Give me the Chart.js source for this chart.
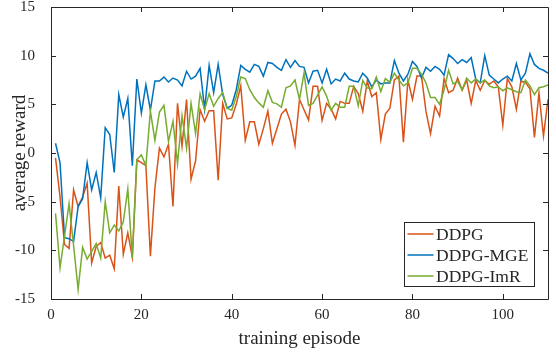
<!DOCTYPE html>
<html>
<head>
<meta charset="utf-8">
<script src="https://cdn.jsdelivr.net/npm/chart.js@4.4.1/dist/chart.umd.min.js"></script>
<style>
  html, body { margin: 0; padding: 0; background: #ffffff; }
  #wrap { width: 556px; height: 356px; }
</style>
</head>
<body>
<div id="wrap"><canvas id="c" width="556" height="356"></canvas></div>
<script>
const episodes = [1,2,3,4,5,6,7,8,9,10,11,12,13,14,15,16,17,18,19,20,
  21,22,23,24,25,26,27,28,29,30,31,32,33,34,35,36,37,38,39,40,
  41,42,43,44,45,46,47,48,49,50,51,52,53,54,55,56,57,58,59,60,
  61,62,63,64,65,66,67,68,69,70,71,72,73,74,75,76,77,78,79,80,
  81,82,83,84,85,86,87,88,89,90,91,92,93,94,95,96,97,98,99,100,
  101,102,103,104,105,106,107,108,109,110];

const ddpg = [-0.5,-4.5,-9.4,-9.8,-3.8,-5.5,-4.5,-3.1,-11.3,-9.6,
  -9.2,-10.8,-10.5,-11.9,-3.4,-10.4,-8.2,-10.7,-0.7,-1.0,
  -1.3,-10.6,-3.6,0.5,-0.4,0.9,-5.5,5.1,0.7,5.5,
  -2.7,-0.8,4.45,3.25,4.35,4.35,-2.8,5.1,3.5,3.6,
  5.0,6.9,1.3,3.2,3.2,0.9,2.5,4.3,1.0,2.5,
  4.0,4.5,3.2,0.8,5.5,4.45,3.4,6.85,6.85,3.35,
  5.1,4.5,3.5,5.3,5.1,5.1,6.85,6.1,4.3,7.4,
  5.8,6.2,1.4,4.0,4.6,7.5,7.9,1.1,7.5,5.5,
  7.9,7.9,4.25,2.0,4.8,3.8,7.65,6.2,6.45,7.7,
  6.45,7.5,5.1,7.45,6.45,7.45,7.05,7.4,6.8,2.85,
  7.65,6.8,4.5,7.4,7.25,6.6,1.6,6.15,1.75,5.5];

const ddpgMGE = [1.0,-1.0,-8.7,-8.8,-9.1,-5.5,-4.7,-1.0,-3.8,-2.0,
  -4.6,2.6,1.9,-2.0,6.0,3.7,5.6,-1.3,7.6,4.1,
  7.0,4.4,7.4,7.4,7.8,7.3,7.7,7.5,6.9,8.4,
  7.6,7.9,8.7,4.5,9.0,6.2,9.1,6.0,4.6,4.9,
  6.5,9.0,8.6,8.3,9.1,8.9,7.9,9.3,9.2,8.8,
  8.5,9.6,8.8,9.5,8.9,8.8,7.2,8.4,8.5,7.2,
  8.6,7.1,7.6,7.4,8.2,7.6,7.4,7.3,8.2,7.7,
  6.8,7.5,7.1,7.2,7.2,9.5,8.2,7.4,8.1,9.4,
  8.9,7.7,8.8,8.4,8.9,8.6,8.0,10.1,9.7,9.2,
  9.6,9.3,9.8,7.6,7.2,10.0,8.0,7.6,7.2,7.6,
  7.9,7.4,9.2,7.5,8.2,10.2,9.1,8.7,8.5,8.2];

const ddpgImR = [-6.2,-11.8,-8.5,-5.2,-9.5,-14.0,-9.7,-10.9,-10.1,-9.3,
  -10.8,-5.0,-8.2,-7.4,-8.0,-7.1,-3.7,-10.8,-0.7,-0.2,
  -1.3,4.3,1.3,4.2,4.9,1.2,3.25,-1.1,3.8,0.5,
  5.1,2.0,6.1,4.45,6.1,4.8,5.6,6.2,4.6,4.4,
  5.8,7.8,7.65,6.5,5.7,5.15,4.7,6.4,5.2,5.05,
  4.7,6.7,6.9,7.5,5.5,8.2,4.9,5.1,5.95,6.8,
  5.85,4.4,5.1,4.7,4.7,6.85,6.85,4.85,7.45,6.7,
  6.6,7.8,6.3,7.65,7.25,8.2,7.5,6.9,7.2,8.7,
  8.7,8.1,7.2,5.7,5.7,5.0,6.5,8.5,7.1,7.35,
  6.5,7.7,7.2,7.6,7.2,7.5,6.9,6.7,6.8,6.4,
  6.7,6.5,6.3,6.2,7.5,6.9,6.0,6.7,6.8,7.0];

const seriesNames = ['DDPG', 'DDPG-MGE', 'DDPG-ImR'];
const xTickValues = [0, 20, 40, 60, 80, 100];
const yTickValues = [-15, -10, -5, 0, 5, 10, 15];
const xLabel = 'training episode';
const yLabel = 'average reward';

const COLORS = ['#D95319', '#0072BD', '#77AC30'];
const AXIS = '#262626';
const SERIF = '"Liberation Serif", "Times New Roman", serif';

function pts(ys) { return episodes.map((e, i) => ({ x: e, y: ys[i] })); }

const boxTicks = {
  id: 'boxTicks',
  afterDraw(chart) {
    const ctx = chart.ctx, a = chart.chartArea;
    const xs = chart.scales.x, ys = chart.scales.y;
    ctx.save();
    ctx.strokeStyle = AXIS;
    ctx.lineWidth = 1;
    ctx.beginPath();
    ctx.rect(Math.round(a.left) + 0.5, Math.round(a.top) + 0.5,
             Math.round(a.right - a.left), Math.round(a.bottom - a.top));
    ctx.stroke();
    const L = 5;
    ctx.beginPath();
    xTickValues.forEach(v => {
      const px = Math.round(xs.getPixelForValue(v)) + 0.5;
      ctx.moveTo(px, a.bottom); ctx.lineTo(px, a.bottom - L);
      ctx.moveTo(px, a.top); ctx.lineTo(px, a.top + L);
    });
    yTickValues.forEach(v => {
      const py = Math.round(ys.getPixelForValue(v)) + 0.5;
      ctx.moveTo(a.left, py); ctx.lineTo(a.left + L, py);
      ctx.moveTo(a.right, py); ctx.lineTo(a.right - L, py);
    });
    ctx.stroke();
    ctx.restore();
  }
};

const boxLegend = {
  id: 'boxLegend',
  afterDraw(chart) {
    const ctx = chart.ctx, a = chart.chartArea;
    const w = 130, h = 64;
    const x0 = Math.round(a.right - 14.5 - w) + 0.5;
    const y0 = Math.round(a.bottom - 13.5 - h) + 0.5;
    ctx.save();
    ctx.fillStyle = '#ffffff';
    ctx.fillRect(x0, y0, w, h);
    ctx.strokeStyle = AXIS;
    ctx.lineWidth = 1;
    ctx.strokeRect(x0, y0, w, h);
    ctx.font = '17.5px ' + SERIF;
    ctx.textBaseline = 'middle';
    ctx.textAlign = 'left';
    chart.data.datasets.forEach((ds, i) => {
      const cy = y0 + 11.5 + i * 21;
      ctx.strokeStyle = ds.borderColor;
      ctx.lineWidth = 1.5;
      ctx.beginPath();
      ctx.moveTo(x0 + 3, cy); ctx.lineTo(x0 + 29, cy);
      ctx.stroke();
      ctx.fillStyle = AXIS;
      ctx.fillText(ds.label, x0 + 31.5, cy + 1);
    });
    ctx.restore();
  }
};

new Chart(document.getElementById('c'), {
  type: 'line',
  data: {
    datasets: [
      { label: seriesNames[0], data: pts(ddpg), borderColor: COLORS[0], order: 3 },
      { label: seriesNames[1], data: pts(ddpgMGE), borderColor: COLORS[1], order: 2 },
      { label: seriesNames[2], data: pts(ddpgImR), borderColor: COLORS[2], order: 1 }
    ]
  },
  options: {
    responsive: false,
    animation: false,
    devicePixelRatio: 1,
    layout: { padding: { top: 7, right: 8, left: 0, bottom: 0 } },
    elements: {
      line: { borderWidth: 1.5, tension: 0, fill: false },
      point: { radius: 0, hoverRadius: 0 }
    },
    plugins: { legend: { display: false }, tooltip: { enabled: false } },
    scales: {
      x: {
        type: 'linear', min: 0, max: 110,
        afterFit(s) { s.height = 57; s.paddingLeft = 0; s.paddingRight = 0; },
        afterBuildTicks(s) { s.ticks = xTickValues.map(v => ({ value: v })); },
        grid: { display: false },
        border: { display: false },
        ticks: { color: AXIS, font: { family: SERIF, size: 15 }, padding: -1, maxRotation: 0 },
        title: { display: true, text: xLabel, color: AXIS,
                 font: { family: SERIF, size: 19 }, padding: { top: 0, bottom: 6 } }
      },
      y: {
        type: 'linear', min: -15, max: 15,
        afterFit(s) { s.width = 51; s.paddingTop = 0; s.paddingBottom = 0; },
        afterBuildTicks(s) { s.ticks = yTickValues.map(v => ({ value: v })); },
        grid: { display: false },
        border: { display: false },
        ticks: { color: AXIS, font: { family: SERIF, size: 15 }, padding: 8 },
        title: { display: true, text: yLabel, color: AXIS,
                 font: { family: SERIF, size: 19 }, padding: { top: 9, bottom: 0 } }
      }
    }
  },
  plugins: [boxTicks, boxLegend]
});
</script>
</body>
</html>
